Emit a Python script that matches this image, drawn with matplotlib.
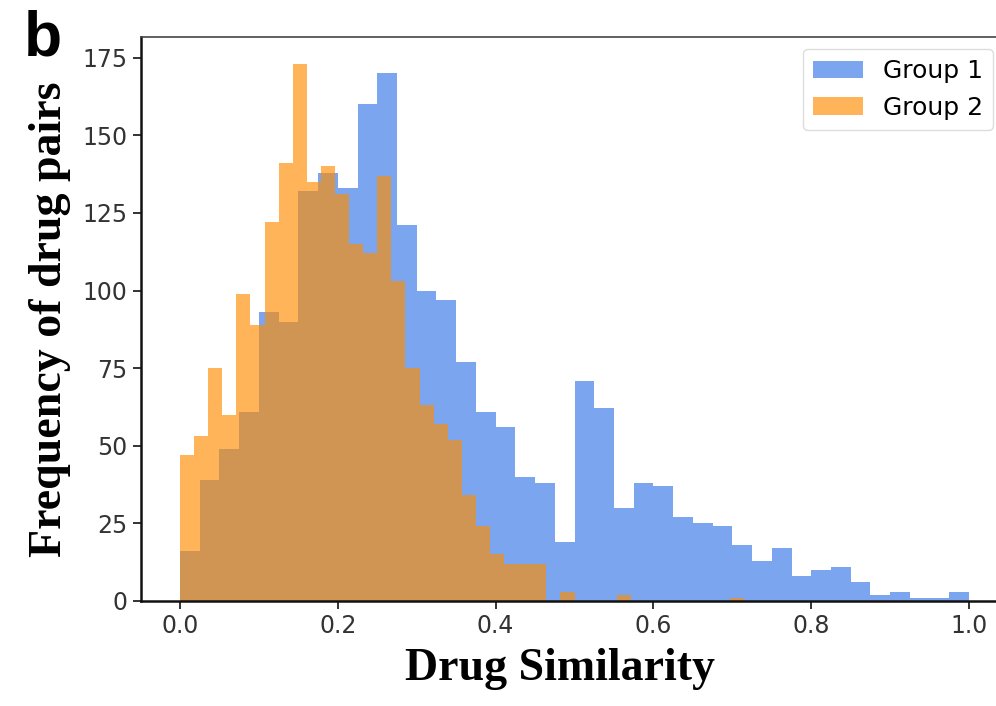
import numpy as np
import matplotlib
matplotlib.use("Agg")
import matplotlib.pyplot as plt

# %%
# histogram counts, 40 bins each
group1_counts = [16, 39, 49, 61, 93, 90, 132, 138, 133, 160,
                 170, 121, 100, 97, 77, 61, 56, 40, 38, 19,
                 71, 62, 30, 38, 37, 27, 25, 24, 18, 13,
                 17, 8, 10, 11, 6, 2, 3, 1, 1, 3]
group2_counts = [47, 53, 75, 60, 99, 89, 122, 141, 173, 135,
                 140, 131, 115, 112, 137, 103, 75, 63, 57, 52,
                 34, 24, 15, 12, 12, 12, 0, 3, 0, 0,
                 0, 2, 0, 0, 0, 0, 0, 0, 0, 1]
group1_range = (0.0, 1.0)
group2_range = (0.0, 0.7143)
n_bins = 40
labels = ["Group 1", "Group 2"]
x_ticks = [0.0, 0.2, 0.4, 0.6, 0.8, 1.0]
y_ticks = [0, 25, 50, 75, 100, 125, 150, 175]

# %%
fig = plt.figure(figsize=(9.96, 7.06), dpi=100)
ax = fig.add_axes([140.5 / 996, 105 / 706, 868 / 996, 564 / 706])

edges1 = np.linspace(group1_range[0], group1_range[1], n_bins + 1)
edges2 = np.linspace(group2_range[0], group2_range[1], n_bins + 1)
mid1 = (edges1[:-1] + edges1[1:]) / 2
mid2 = (edges2[:-1] + edges2[1:]) / 2

ax.hist(mid1, bins=edges1, weights=group1_counts, color="cornflowerblue", alpha=0.85, label=labels[0])
ax.hist(mid2, bins=edges2, weights=group2_counts, color="darkorange", alpha=0.65, label=labels[1])

ax.set_xlim(-0.05, 1.05)
ax.set_ylim(0, 181.65)
ax.set_xticks(x_ticks)
ax.set_yticks(y_ticks)
ax.tick_params(labelsize=17, length=6, width=1.2, colors="#111111", labelcolor="#333333")

for s in ["left", "bottom"]:
    ax.spines[s].set_linewidth(1.8)
    ax.spines[s].set_color("#111111")
ax.spines["top"].set_linewidth(1.2)
ax.spines["top"].set_color("#444444")
ax.spines["right"].set_visible(False)

ax.set_xlabel("Drug Similarity", fontsize=33, fontweight="bold", family="Liberation Serif", labelpad=6)
ax.xaxis.set_label_coords((560 - 140.5) / 868, -0.083, transform=ax.transAxes)
ax.xaxis.label.set_va("top")
ax.set_ylabel("Frequency of drug pairs", fontsize=33, fontweight="bold", family="Liberation Serif", labelpad=8)

ax.legend(loc="upper right", bbox_to_anchor=(993 / 996, (706 - 49) / 706), bbox_transform=fig.transFigure,
          borderaxespad=0, fontsize=18, framealpha=1, edgecolor="#dddddd", fancybox=True)

fig.text(24 / 996, 1 - 56 / 706, "b", fontsize=45, fontweight="bold", family="Liberation Sans")

fig.savefig("out.png", dpi=100)
